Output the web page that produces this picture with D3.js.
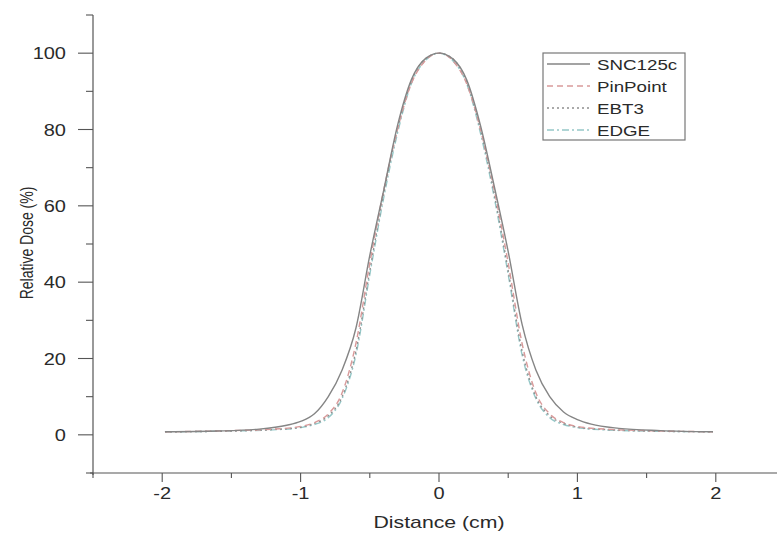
<!DOCTYPE html>
<html>
<head>
<meta charset="utf-8">
<style>
  body { margin: 0; background: #fff; }
  svg text { font-family: "Liberation Sans", Arial, sans-serif; fill: #2a2a2a; }
</style>
</head>
<body>
<script src="https://cdn.jsdelivr.net/npm/d3@7"></script>
<script>

// distance (cm) and relative dose (%)
var xSNC = [-1.98, -1.6, -1.3, -1.1, -1.0, -0.9, -0.8, -0.7, -0.6, -0.5, -0.4, -0.3, -0.2, -0.1, 0, 0.1, 0.2, 0.3, 0.4, 0.5, 0.6, 0.7, 0.8, 0.9, 1.0, 1.1, 1.3, 1.6, 1.98];
var ySNC = [0.8, 1.0, 1.5, 2.5, 3.5, 5.5, 10, 17, 28, 47, 64, 81, 93, 98.5, 100, 98.5, 93, 81, 65, 48, 29, 17, 10, 6, 4, 2.8, 1.7, 1.1, 0.8];

var xDet = [-1.98, -1.5, -1.2, -1.0, -0.9, -0.8, -0.7, -0.6, -0.5, -0.4, -0.3, -0.2, -0.1, 0, 0.1, 0.2, 0.3, 0.4, 0.5, 0.6, 0.7, 0.8, 0.9, 1.0, 1.2, 1.5, 1.98];
var yPinPoint = [0.8, 1.1, 1.5, 2.2, 3.2, 5.5, 11, 24, 45, 64, 80, 92, 98, 100, 98, 92, 80, 64, 45, 24, 11, 5.5, 3.2, 2.2, 1.5, 1.1, 0.8];
var yEBT3     = [0.8, 1.0, 1.4, 2.0, 3.0, 5.0, 10, 22, 43, 63, 80, 92.5, 98.5, 100, 98.5, 92.5, 80, 63, 43, 22, 10, 5.0, 3.0, 2.0, 1.4, 1.0, 0.8];
var yEDGE     = [0.8, 1.0, 1.3, 1.9, 2.7, 4.5, 9.5, 21, 42, 62, 79, 92, 98, 100, 98, 92, 79, 62, 42, 21, 9.5, 4.5, 2.7, 1.9, 1.3, 1.0, 0.8];

var seriesNames = ["SNC125c", "PinPoint", "EBT3", "EDGE"];
var xTicks = [-2, -1, 0, 1, 2];
var yTicks = [0, 20, 40, 60, 80, 100];

var styles = {
  "SNC125c":  { color: "#858585", dash: null },
  "PinPoint": { color: "#d99a9a", dash: "6,4" },
  "EBT3":     { color: "#8f8f8f", dash: "2,3" },
  "EDGE":     { color: "#95c8c8", dash: "7,3,2,3" }
};

var series = [
  { name: "SNC125c",  x: xSNC, y: ySNC },
  { name: "PinPoint", x: xDet, y: yPinPoint },
  { name: "EBT3",     x: xDet, y: yEBT3 },
  { name: "EDGE",     x: xDet, y: yEDGE }
];

var W = 777, H = 543;
var sx = 1.25; // text in the picture is stretched horizontally

var svg = d3.select("body").append("svg")
  .attr("width", W).attr("height", H);

var x = d3.scaleLinear().domain([-2.5, 2.5]).range([93, 785]);
var y = d3.scaleLinear().domain([-10, 110]).range([473, 15]);

var axisColor = "#555";

// axis lines
svg.append("line").attr("x1", 90).attr("x2", W).attr("y1", y(-10)).attr("y2", y(-10))
  .attr("stroke", axisColor).attr("stroke-width", 1.2);
svg.append("line").attr("x1", x(-2.5)).attr("x2", x(-2.5)).attr("y1", y(110)).attr("y2", y(-10) + 2)
  .attr("stroke", axisColor).attr("stroke-width", 1.2);

// x ticks
var xMinor = d3.range(-2.5, 2.51, 0.5);
svg.selectAll(".xtick").data(xMinor).enter().append("line")
  .attr("x1", function(d) { return x(d); }).attr("x2", function(d) { return x(d); })
  .attr("y1", y(-10))
  .attr("y2", function(d) { return y(-10) + (Math.abs(d % 1) < 1e-6 ? 9 : 5); })
  .attr("stroke", axisColor).attr("stroke-width", 1.1);

svg.selectAll(".xlab").data(xTicks).enter().append("text")
  .attr("transform", function(d) { return "translate(" + x(d) + "," + (y(-10) + 26) + ") scale(" + sx + ",1)"; })
  .attr("text-anchor", "middle")
  .style("font-size", "16px")
  .text(function(d) { return d; });

// y ticks
var yMinor = d3.range(-10, 110.1, 10);
svg.selectAll(".ytick").data(yMinor).enter().append("line")
  .attr("y1", function(d) { return y(d); }).attr("y2", function(d) { return y(d); })
  .attr("x1", x(-2.5))
  .attr("x2", function(d) { return x(-2.5) - (d % 20 === 0 ? 15 : 7); })
  .attr("stroke", axisColor).attr("stroke-width", 1.1);

svg.selectAll(".ylab").data(yTicks).enter().append("text")
  .attr("transform", function(d) { return "translate(66," + (y(d) + 6) + ") scale(" + sx + ",1)"; })
  .attr("text-anchor", "end")
  .style("font-size", "16px")
  .text(function(d) { return d; });

// axis titles
svg.append("text")
  .attr("transform", "translate(" + x(0) + ",528) scale(" + sx + ",1)")
  .attr("text-anchor", "middle")
  .style("font-size", "17px")
  .text("Distance (cm)");

svg.append("text")
  .attr("transform", "translate(33,243) rotate(-90) scale(1," + sx + ")")
  .attr("text-anchor", "middle")
  .style("font-size", "14px")
  .text("Relative Dose (%)");

// curves
var line = d3.line()
  .x(function(d) { return x(d[0]); })
  .y(function(d) { return y(d[1]); })
  .curve(d3.curveMonotoneX);

series.slice().reverse().forEach(function(s) {
  var pts = s.x.map(function(v, i) { return [v, s.y[i]]; });
  svg.append("path")
    .attr("d", line(pts))
    .attr("fill", "none")
    .attr("stroke", styles[s.name].color)
    .attr("stroke-width", 1.4)
    .attr("stroke-dasharray", styles[s.name].dash);
});

// legend
var lg = svg.append("g");
lg.append("rect")
  .attr("x", 543).attr("y", 53).attr("width", 142).attr("height", 87)
  .attr("fill", "#fff").attr("stroke", "#777").attr("stroke-width", 1.2);

seriesNames.forEach(function(name, i) {
  var yy = 64 + i * 22;
  lg.append("line")
    .attr("x1", 547).attr("x2", 590).attr("y1", yy).attr("y2", yy)
    .attr("stroke", styles[name].color).attr("stroke-width", 1.4)
    .attr("stroke-dasharray", styles[name].dash);
  lg.append("text")
    .attr("transform", "translate(597," + (yy + 6) + ") scale(" + sx + ",1)")
    .style("font-size", "15px")
    .text(name);
});

</script>
</body>
</html>
